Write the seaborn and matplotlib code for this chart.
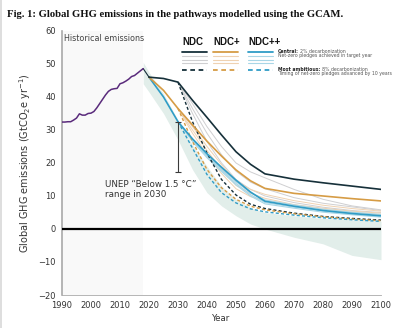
import numpy as np
import pandas as pd
import seaborn as sns
import matplotlib
matplotlib.use("Agg")
import matplotlib.pyplot as plt
from matplotlib.lines import Line2D

# ---- data -----------------------------------------------------------------
hist_years = [1990, 1991, 1992, 1993, 1994, 1995, 1996, 1997, 1998, 1999, 2000,
              2001, 2002, 2003, 2004, 2005, 2006, 2007, 2008, 2009, 2010, 2011,
              2012, 2013, 2014, 2015, 2016, 2017, 2018]
hist_vals = [32.4, 32.4, 32.5, 32.5, 33.0, 33.6, 34.9, 34.5, 34.5, 35.0, 35.1,
             35.6, 36.7, 38.0, 39.3, 40.6, 41.7, 42.3, 42.5, 42.6, 44.0, 44.3,
             44.8, 45.4, 46.2, 46.5, 47.2, 47.9, 48.6]

path_years = [2020, 2025, 2030, 2035, 2040, 2045, 2050, 2055, 2060, 2070, 2080, 2090, 2100]
ndc_central = [46.0, 45.6, 44.5, 39.0, 33.8, 28.5, 23.4, 19.6, 16.7, 15.1, 14.0, 13.0, 12.0]
ndcp_central = [46.0, 42.0, 36.5, 31.5, 26.6, 22.1, 17.9, 14.6, 12.3, 10.8, 10.0, 9.2, 8.5]
ndcpp_central = [46.0, 40.0, 32.5, 27.3, 22.8, 18.7, 14.8, 11.2, 8.4, 6.9, 5.6, 4.7, 4.0]

var_years = [2030, 2035, 2040, 2045, 2050, 2055, 2060, 2070, 2080, 2090, 2100]
ndc_pledges = [
    [44.5, 38.0, 31.0, 25.0, 20.0, 17.3, 15.5, 12.0, 9.0, 7.0, 5.8],
    [44.5, 36.5, 29.0, 22.5, 17.5, 14.2, 12.2, 9.5, 7.8, 6.7, 5.6],
    [44.5, 35.0, 26.5, 20.0, 15.0, 12.0, 10.0, 8.0, 6.6, 5.6, 5.0],
]
ndcp_pledges = [
    [36.5, 31.0, 25.0, 19.5, 14.5, 12.0, 10.5, 8.6, 7.2, 6.2, 5.4],
    [36.5, 30.0, 23.8, 18.0, 13.2, 10.8, 9.3, 7.4, 6.3, 5.4, 4.8],
    [36.5, 29.0, 22.5, 16.8, 12.2, 9.8, 8.6, 6.9, 5.8, 5.0, 4.4],
]
ndcpp_pledges = [
    [32.5, 27.0, 22.3, 18.2, 14.3, 11.0, 8.8, 7.3, 6.0, 5.1, 4.4],
    [32.5, 26.8, 22.0, 17.8, 13.8, 10.4, 8.0, 6.6, 5.4, 4.5, 3.8],
    [32.5, 26.5, 21.6, 17.4, 13.4, 10.0, 7.6, 6.3, 5.1, 4.3, 3.6],
]
ndc_ambitious = [44.5, 32.5, 23.0, 15.0, 10.3, 7.5, 6.2, 4.8, 3.8, 3.2, 2.7]
ndcp_ambitious = [36.5, 26.5, 18.0, 12.5, 9.0, 6.9, 5.8, 4.6, 3.7, 3.0, 2.5]
ndcpp_ambitious = [32.5, 24.5, 16.5, 11.0, 7.9, 6.1, 5.2, 4.2, 3.4, 2.8, 2.3]

range_years = [2018, 2020, 2025, 2030, 2035, 2040, 2045, 2050, 2055, 2060, 2070, 2080, 2090, 2100]
range_low = [44.0, 41.5, 35.0, 27.0, 18.0, 11.0, 7.0, 4.0, 1.5, 0.0, -2.5, -4.5, -8.0, -9.3]
range_high = [50.5, 47.5, 41.0, 33.0, 25.5, 19.0, 13.0, 9.0, 6.5, 5.0, 4.0, 3.2, 2.8, 2.4]

unep_2030 = [17.4, 32.5]

x_ticks = list(range(1990, 2101, 10))
y_ticks = list(range(-20, 61, 10))

scenario_names = ["NDC", "NDC+", "NDC++"]

# ---- styling --------------------------------------------------------------
C_NDC, C_NDCP, C_NDCPP = "#16303a", "#d69c45", "#2f9cc6"
L_NDC, L_NDCP, L_NDCPP = "#cfcfd1", "#efd2b2", "#a9d6e6"
C_HIST = "#5a2b7c"
C_FILL = "#e2eeea"
C_AXIS = "#a9a9a9"
TXT = "#333333"

sns.set_theme(style="white")
plt.rcParams["font.family"] = ["DejaVu Sans"]

fig = plt.figure(figsize=(4.0, 3.28), dpi=100)
ax = fig.add_axes([0.155, 0.1006, 0.7975, 0.805])

# historical period shading and scenario range
ax.axvspan(hist_years[0], hist_years[-1], color="#f9f9f9", lw=0, zorder=0)
ax.fill_between(range_years, range_low, range_high, color=C_FILL, lw=0, zorder=1)

def draw(x, y, color, lw, dashed=False, z=3):
    df = pd.DataFrame({"year": x, "value": y})
    sns.lineplot(data=df, x="year", y="value", ax=ax, color=color, lw=lw,
                 linestyle=(0, (2.2, 1.6)) if dashed else "-", zorder=z,
                 estimator=None, sort=False)

for pl in ndc_pledges:
    draw(var_years, pl, L_NDC, 0.7, z=2)
for pl in ndcp_pledges:
    draw(var_years, pl, L_NDCP, 0.7, z=2)
for pl in ndcpp_pledges:
    draw(var_years, pl, L_NDCPP, 0.8, z=2)

draw(var_years, ndc_ambitious, C_NDC, 1.0, dashed=True, z=4)
draw(var_years, ndcp_ambitious, C_NDCP, 1.0, dashed=True, z=4)
draw(var_years, ndcpp_ambitious, C_NDCPP, 1.0, dashed=True, z=4)

draw(path_years, ndcpp_central, C_NDCPP, 1.2, z=5)
draw(path_years, ndcp_central, C_NDCP, 1.2, z=5)
draw(path_years, ndc_central, C_NDC, 1.2, z=5)
draw([hist_years[-1], path_years[0]], [hist_vals[-1], ndc_central[0]], C_NDC, 0.8, z=5)

draw(hist_years, hist_vals, C_HIST, 1.1, z=6)

ax.axhline(0, color="black", lw=1.6, zorder=7)

# UNEP 2030 range bar
mid = np.mean(unep_2030)
ax.errorbar([2030], [mid], yerr=[[mid - unep_2030[0]], [unep_2030[1] - mid]],
            fmt="none", ecolor="#3a3a3a", elinewidth=0.8, capsize=2.5,
            capthick=0.8, zorder=8)
ax.text(2004.8, unep_2030[0] - 2.6, "UNEP \u201cBelow 1.5 \u00b0C\u201d\nrange in 2030",
        fontsize=6.3, color=TXT, ha="left", va="top", linespacing=1.15, zorder=9)
ax.text(1990.8, 59.2, "Historical emissions", fontsize=5.8, color="#444444",
        ha="left", va="top")

# axes
ax.set_xlim(1990, 2100)
ax.set_ylim(-20, 60)
ax.set_xticks(x_ticks)
ax.set_yticks(y_ticks)
ax.set_xlabel("Year", fontsize=6.2, color=TXT, labelpad=3)
ax.set_ylabel("Global GHG emissions (GtCO$_2$e yr$^{-1}$)", fontsize=7.0,
              color=TXT, labelpad=4)
ax.tick_params(axis="both", labelsize=6.0, colors=TXT, length=2.5, width=0.6,
               color=C_AXIS, pad=2)
ax.tick_params(axis="both", which="both", direction="out")
for s in ["top", "right"]:
    ax.spines[s].set_visible(False)
ax.spines["left"].set_color(C_AXIS)
ax.spines["left"].set_linewidth(1.2)
ax.spines["bottom"].set_color(C_AXIS)
ax.spines["bottom"].set_linewidth(0.6)
ax.grid(False)

# legend block
def yfig(py):
    return 1 - py / 328.0

renderer = fig.canvas.get_renderer()

groups = [((181.7, 206.7), C_NDC, L_NDC),
          ((212.7, 238.3), C_NDCP, L_NDCP),
          ((247.7, 273.3), C_NDCPP, L_NDCPP)]
for name, ((x0, x1), dark, light) in zip(scenario_names, groups):
    fig.text((x0 + 0.5) / 400, yfig(42), name, fontsize=7.0, fontweight="bold",
             family=["Liberation Sans"], color="#111111", ha="left", va="center")
    xs = [x0 / 400.0, x1 / 400.0]
    fig.add_artist(Line2D(xs, [yfig(51.7)] * 2, color=dark, lw=1.3))
    for py in (55.7, 59.5, 63.3):
        fig.add_artist(Line2D(xs, [yfig(py)] * 2, color=light, lw=0.8))
    fig.add_artist(Line2D(xs, [yfig(70.0)] * 2, color=dark, lw=1.3,
                          linestyle=(0, (2.6, 2.0))))

LEG_FS = 3.3

def two_part(x, y, head, rest):
    t = fig.text(x, y, head, fontsize=LEG_FS, fontweight="bold", color="#222222",
                 va="center")
    bb = t.get_window_extent(renderer)
    fig.text((bb.x1 + 1.5) / 400, y, rest, fontsize=LEG_FS, color="#555555",
             va="center")

two_part(278 / 400, yfig(51.3), "Central:", "2% decarbonization")
fig.text(278 / 400, yfig(55.6), "Net-zero pledges achieved in target year",
         fontsize=LEG_FS, color="#555555", va="center")
two_part(278 / 400, yfig(69.3), "Most ambitious:", "8% decarbonization")
fig.text(278 / 400, yfig(73.6), "Timing of net-zero pledges advanced by 10 years",
         fontsize=LEG_FS, color="#555555", va="center")

# title
fig.text(0.018, 0.955, "Fig. 1: Global GHG emissions in the pathways modelled using the GCAM.",
         fontsize=7.7, fontweight="bold", family=["Liberation Serif"], color="#111111",
         ha="left", va="center")

# page edge on the left
fig.add_artist(Line2D([0.002, 0.002], [0, 1], color="#d8d8d8", lw=1.2))

fig.savefig("out.png", dpi=100)
